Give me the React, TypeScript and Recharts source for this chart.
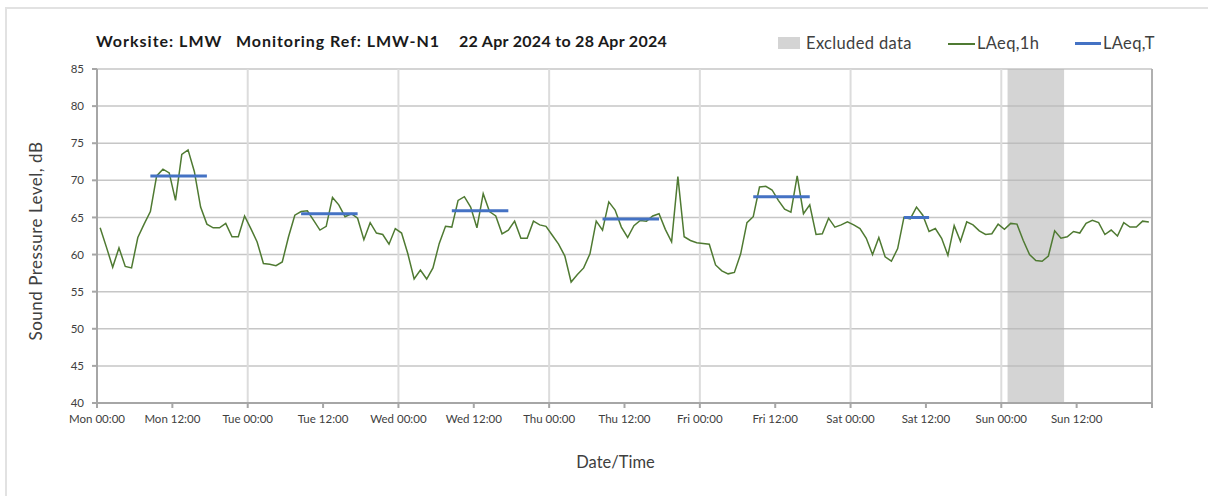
import React from 'react';
import { LineChart, Line, XAxis, YAxis, CartesianGrid, ReferenceArea, ReferenceLine } from 'recharts';

// hourly LAeq,1h readings, Mon 00:00 -> Sun 23:00
const hourlyLAeq1h = [
  63.6, 61.0, 58.3, 60.9, 58.4, 58.2, 62.3, 64.1, 65.8, 70.6, 71.5, 71.0, 67.3, 73.5, 74.1, 71.2, 66.4, 64.1, 63.6, 63.6, 64.2, 62.4, 62.4, 65.2,
  63.5, 61.7, 58.8, 58.7, 58.5, 59.0, 62.4, 65.3, 65.8, 65.9, 64.6, 63.3, 63.8, 67.7, 66.7, 65.1, 65.5, 64.9, 62.0, 64.3, 62.9, 62.7, 61.4, 63.5,
  62.9, 60.1, 56.7, 57.9, 56.7, 58.2, 61.5, 63.8, 63.7, 67.3, 67.8, 66.4, 63.6, 68.2, 65.8, 65.2, 62.8, 63.3, 64.5, 62.2, 62.2, 64.5, 64.0, 63.8,
  62.6, 61.4, 59.8, 56.3, 57.3, 58.2, 60.1, 64.5, 63.3, 67.1, 66.0, 63.7, 62.3, 63.9, 64.6, 64.5, 65.2, 65.5, 63.4, 61.7, 70.5, 62.4, 61.9, 61.6,
  61.5, 61.4, 58.6, 57.8, 57.4, 57.6, 60.1, 64.3, 65.1, 69.1, 69.2, 68.7, 67.3, 66.1, 65.7, 70.6, 65.5, 66.7, 62.7, 62.8, 64.9, 63.7, 64.0, 64.4,
  64.0, 63.5, 62.2, 60.0, 62.3, 59.7, 59.1, 60.8, 65.0, 64.8, 66.4, 65.3, 63.1, 63.5, 62.2, 59.9, 63.9, 61.8, 64.4, 64.0, 63.2, 62.7, 62.8, 64.1,
  63.4, 64.2, 64.1, 61.9, 60.0, 59.2, 59.1, 59.8, 63.2, 62.2, 62.4, 63.1, 62.9, 64.2, 64.6, 64.3, 62.7, 63.3, 62.5, 64.3, 63.7, 63.7, 64.5, 64.4,
];

// LAeq,T periods (first hour, last hour, level)
const periodStart = [8, 32, 56, 80, 104, 128];
const periodEnd = [17, 41, 65, 89, 113, 132];
const periodLAeqT = [70.6, 65.5, 65.9, 64.8, 67.8, 65.0];

const excludedFrom = 145;
const excludedTo = 154;

const tickHours = [0, 12, 24, 36, 48, 60, 72, 84, 96, 108, 120, 132, 144, 156, 168];
const tickLabels = [
  'Mon 00:00', 'Mon 12:00', 'Tue 00:00', 'Tue 12:00', 'Wed 00:00', 'Wed 12:00', 'Thu 00:00', 'Thu 12:00',
  'Fri 00:00', 'Fri 12:00', 'Sat 00:00', 'Sat 12:00', 'Sun 00:00', 'Sun 12:00', '',
];
const dayLines = [24, 48, 72, 96, 120, 144];
const yTicks = [40, 45, 50, 55, 60, 65, 70, 75, 80, 85];

const rows = hourlyLAeq1h.map((v, k) => {
  const p = periodStart.findIndex((s, i) => k >= s && k <= periodEnd[i]);
  return { hour: k + 0.5, laeq1h: v, laeqT: p >= 0 ? periodLAeqT[p] : null };
});

const FONT = 'Lato, "Open Sans", sans-serif';
const GREEN = '#4f7a32';
const BLUE = '#4472c4';
const TEXT = '#404040';

const legendText: React.CSSProperties = { position: 'absolute', top: 0, fontSize: 16.5, letterSpacing: 0.35, lineHeight: '20px' };

const LegendBox = () => (
  <div style={{ position: 'absolute', left: 778, top: 33, width: 390, height: 20, fontFamily: FONT, color: TEXT, whiteSpace: 'nowrap' }}>
    <span style={{ position: 'absolute', left: 0, top: 4, width: 22, height: 12, background: '#d4d4d4' }} />
    <span style={{ ...legendText, left: 28 }}>Excluded data</span>
    <span style={{ position: 'absolute', left: 170, top: 10, width: 27, height: 1.5, background: GREEN }} />
    <span style={{ ...legendText, left: 199 }}>LAeq,1h</span>
    <span style={{ position: 'absolute', left: 297, top: 9, width: 26, height: 3, background: BLUE }} />
    <span style={{ ...legendText, left: 325 }}>LAeq,T</span>
  </div>
);

export default function App() {
  return (
    <div style={{ position: 'absolute', left: 0, top: 0, width: 1208, height: 496, background: '#fff', overflow: 'hidden' }}>
      <div style={{ position: 'absolute', left: 5, top: 7, width: 1300, height: 600, borderTop: '2px solid #e2e2e2', borderLeft: '2px solid #e2e2e2' }} />
      <div style={{ position: 'absolute', left: 96, top: 31, fontFamily: FONT, fontWeight: 700, fontSize: 16, color: '#1a1a1a', whiteSpace: 'nowrap' }}>
        <span style={{ position: 'absolute', left: 0, letterSpacing: 1.0 }}>Worksite: LMW</span>
        <span style={{ position: 'absolute', left: 140, letterSpacing: 0.95 }}>Monitoring Ref: LMW-N1</span>
        <span style={{ position: 'absolute', left: 363, letterSpacing: 0.3 }}>22 Apr 2024 to 28 Apr 2024</span>
      </div>
      <LegendBox />
      <LineChart width={1208} height={496} data={rows} margin={{ top: 69, right: 56, bottom: 20, left: 20 }}>
        <CartesianGrid vertical={false} stroke="#c6c6c6" strokeWidth={1.5} />
        <ReferenceArea x1={excludedFrom} x2={excludedTo} y1={40} y2={85} fill="#b8b8b8" fillOpacity={0.6} stroke="none" />
        {dayLines.map((d) => (
          <ReferenceLine key={d} x={d} stroke="#dcdcdc" strokeWidth={2} />
        ))}
        <ReferenceLine x={168} stroke="#b0b0b0" strokeWidth={2} />
        <XAxis
          dataKey="hour"
          type="number"
          domain={[0, 168]}
          ticks={tickHours}
          tickFormatter={(v) => tickLabels[tickHours.indexOf(v)]}
          interval={0}
          height={73}
          stroke="#a6a6a6"
          strokeWidth={2}
          tickSize={5}
          tickMargin={7}
          tick={{ fill: TEXT, fontSize: 11.5, fontFamily: FONT }}
          label={{
            content: (props: any) => {
              const vb = props.viewBox;
              return (
                <text x={vb.x + vb.width / 2 - 9} y={vb.y + 59} textAnchor="middle" dominantBaseline="central" fill={TEXT} fontSize={16.5} fontFamily={FONT}>
                  Date/Time
                </text>
              );
            },
          }}
        />
        <YAxis
          domain={[40, 85]}
          ticks={yTicks}
          interval={0}
          width={77}
          stroke="#a6a6a6"
          strokeWidth={2}
          tickSize={5}
          tickMargin={8}
          tick={{ fill: TEXT, fontSize: 11.5, fontFamily: FONT }}
          label={{
            content: (props: any) => {
              const vb = props.viewBox;
              const cx = vb.x + 15;
              const cy = vb.y + vb.height / 2 + 5;
              return (
                <text x={cx} y={cy} transform={`rotate(-90 ${cx} ${cy})`} textAnchor="middle" dominantBaseline="central" fill={TEXT} fontSize={17} letterSpacing={0.5} fontFamily={FONT}>
                  Sound Pressure Level, dB
                </text>
              );
            },
          }}
        />
        <Line dataKey="laeq1h" stroke={GREEN} strokeWidth={1.5} dot={false} isAnimationActive={false} />
        <Line dataKey="laeqT" stroke={BLUE} strokeWidth={3} dot={false} connectNulls={false} isAnimationActive={false} />
      </LineChart>
    </div>
  );
}
